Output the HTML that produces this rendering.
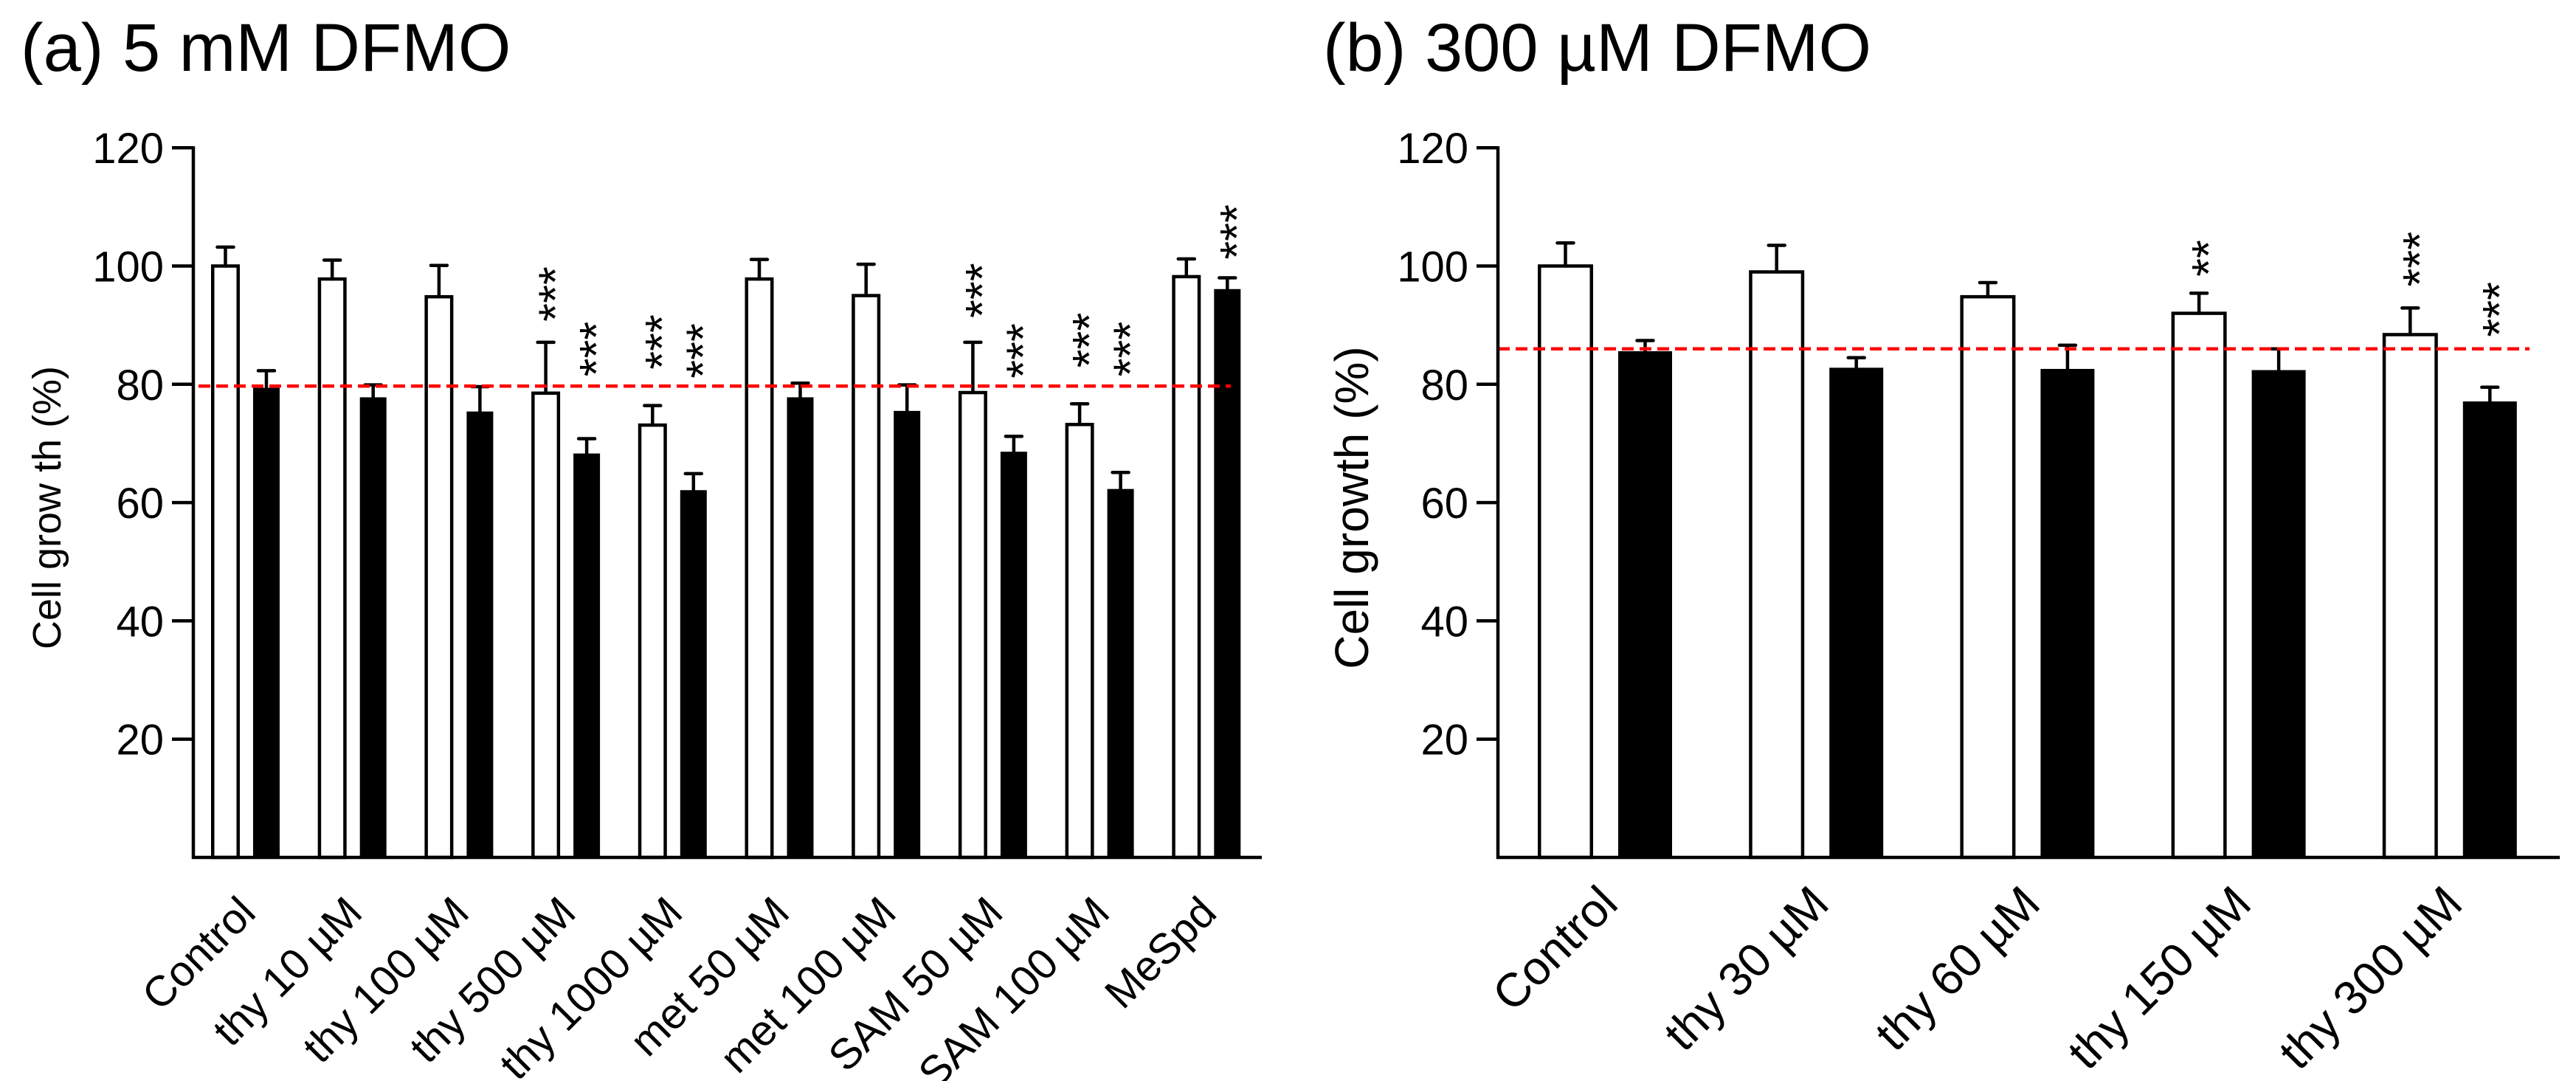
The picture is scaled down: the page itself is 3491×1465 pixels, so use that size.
<!DOCTYPE html>
<html><head><meta charset="utf-8"><style>
html,body{margin:0;padding:0;background:#fff;}
svg{display:block;font-family:"Liberation Sans",Arial,sans-serif;}
</style></head><body>
<svg id="chart" width="3491" height="1465" viewBox="0 0 3491 1465" xmlns="http://www.w3.org/2000/svg">
<text x="28" y="96" font-size="92">(a) 5 mM DFMO</text>
<text x="1793" y="96" font-size="92">(b) 300 µM DFMO</text>
<g id="pa"></g>
<g id="pb"></g>
</svg>
<script>
// Panel A data
const catsA = ["Control","thy 10 µM","thy 100 µM","thy 500 µM","thy 1000 µM","met 50 µM","met 100 µM","SAM 50 µM","SAM 100 µM","MeSpd"];
const whiteA = [100, 97.8, 94.8, 78.5, 73.1, 97.8, 95, 78.6, 73.2, 98.2];
const whiteErrA = [3.2, 3.2, 5.3, 8.6, 3.3, 3.3, 5.3, 8.5, 3.5, 3.0];
const blackA = [79.4, 77.8, 75.4, 68.3, 62.1, 77.8, 75.5, 68.6, 62.3, 96.1];
const blackErrA = [2.9, 2.1, 4.2, 2.5, 2.8, 2.4, 4.4, 2.6, 2.8, 1.9];
const starsWhiteA = ["", "", "", "***", "***", "", "", "***", "***", ""];
const starsBlackA = ["", "", "", "***", "***", "", "", "***", "***", "***"];
const starPosWA = [0,0,0,90.6,82.5,0,0,91.2,82.8,0];
const starPosBA = [0,0,0,81.3,81,0,0,81,81.3,101.1];
const refA = 79.7;
// Panel B data
const catsB = ["Control","thy 30 µM","thy 60 µM","thy 150 µM","thy 300 µM"];
const whiteB = [100, 99, 94.8, 92, 88.4];
const whiteErrB = [3.9, 4.5, 2.4, 3.4, 4.5];
const blackB = [85.6, 82.8, 82.6, 82.4, 77.1];
const blackErrB = [1.8, 1.7, 4.0, 3.6, 2.4];
const starsWhiteB = ["", "", "", "**", "***"];
const starsBlackB = ["", "", "", "", "***"];
const starPosWB = [0,0,0,98.2,96.5];
const starPosBB = [0,0,0,0,88];
const refB = 86.0;
const yTicks = [20,40,60,80,100,120];

const NS="http://www.w3.org/2000/svg";
function mk(parent,tag,attrs){const e=document.createElementNS(NS,tag);for(const k in attrs)e.setAttribute(k,attrs[k]);parent.appendChild(e);return e;}
const baseY=1162, perUnit=8.015;
function yS(v){return baseY - v*perUnit;}

function panel(g,cfg){
  const {cats,white,wErr,black,bErr,sw,sb,spw,spb,ref,x0,step,ww,boff,bw,axX,axEnd,refX0,refX1,title,titleX,titleFont,labFont,labDx,labY}=cfg;
  cats.forEach((c,i)=>{
    const wx=x0+i*step, bx=wx+boff;
    const wr=mk(g,'rect',{x:wx+2.25,y:yS(white[i]),width:ww-4.5,height:baseY-yS(white[i]),fill:'#fff',stroke:'#000','stroke-width':4.5});
    
    
    const br=mk(g,'rect',{x:bx,y:yS(black[i]),width:bw,height:baseY-yS(black[i]),fill:'#000'});
    
    
    const wc=wx+ww/2, bc=bx+bw/2;
    [[wc,white[i],wErr[i],'white'],[bc,black[i],bErr[i],'black']].forEach(([cx,v,e,t])=>{
      const eg=mk(g,'path',{d:`M${cx} ${yS(v)} V${yS(v+e)} M${cx-11} ${yS(v+e)} H${cx+11}`,stroke:'#000','stroke-width':4.5,fill:'none','stroke-linecap':'round'});
      
      
    });
    [[wc,sw[i],spw[i],'white'],[bc,sb[i],spb[i],'black']].forEach(([cx,s,p,t])=>{
      if(!s)return;
      const st=mk(g,'text',{x:0,y:0,'font-size':64,'dominant-baseline':'central',dy:'0.2em',transform:`translate(${cx},${yS(p)}) rotate(-90)`});
      st.textContent=s;
      
      
    });
    const lb=mk(g,'text',{x:0,y:0,'font-size':labFont,'text-anchor':'end',transform:`translate(${(wc+bc)/2+labDx},${labY}) rotate(-45)`});
    lb.textContent=c;
    
    
  });
  const rl=mk(g,'line',{x1:refX0,x2:refX1,y1:yS(ref),y2:yS(ref),stroke:'#f00','stroke-width':4.5,'stroke-dasharray':'16 8'});
  
  
  const ya=mk(g,'line',{x1:axX,x2:axX,y1:yS(120)-2,y2:baseY+2,stroke:'#000','stroke-width':4.5});
  
  
  const xa=mk(g,'line',{x1:axX-2,x2:axEnd,y1:baseY,y2:baseY,stroke:'#000','stroke-width':4.5});
  
  
  yTicks.forEach(t=>{
    const tk=mk(g,'line',{x1:axX-29,x2:axX,y1:yS(t),y2:yS(t),stroke:'#000','stroke-width':4.5});
    
    
    const tl=mk(g,'text',{x:axX-40,y:yS(t)+21,'font-size':58,'text-anchor':'end'});
    tl.textContent=t;
    
    
  });
  const yt=mk(g,'text',{x:0,y:0,'font-size':titleFont,'text-anchor':'middle','dominant-baseline':'central',transform:`translate(${titleX},688) rotate(-90)`});
  yt.textContent=title;
  
  
}
panel(document.getElementById('pa'),{cats:catsA,white:whiteA,wErr:whiteErrA,black:blackA,bErr:blackErrA,sw:starsWhiteA,sb:starsBlackA,spw:starPosWA,spb:starPosBA,ref:refA,
  x0:286,step:144.7,ww:39,boff:57,bw:36,axX:262,axEnd:1710,refX0:269,refX1:1668,title:"Cell grow th (%)",titleX:64,titleFont:54,labFont:58,labDx:16,labY:1240});
panel(document.getElementById('pb'),{cats:catsB,white:whiteB,wErr:whiteErrB,black:blackB,bErr:blackErrB,sw:starsWhiteB,sb:starsBlackB,spw:starPosWB,spb:starPosBB,ref:refB,
  x0:2084,step:286.2,ww:75,boff:109,bw:73,axX:2030,axEnd:3469,refX0:2030,refX1:3428,title:"Cell growth (%)",titleX:1832,titleFont:64,labFont:64,labDx:20,labY:1228});
</script>
</body></html>
